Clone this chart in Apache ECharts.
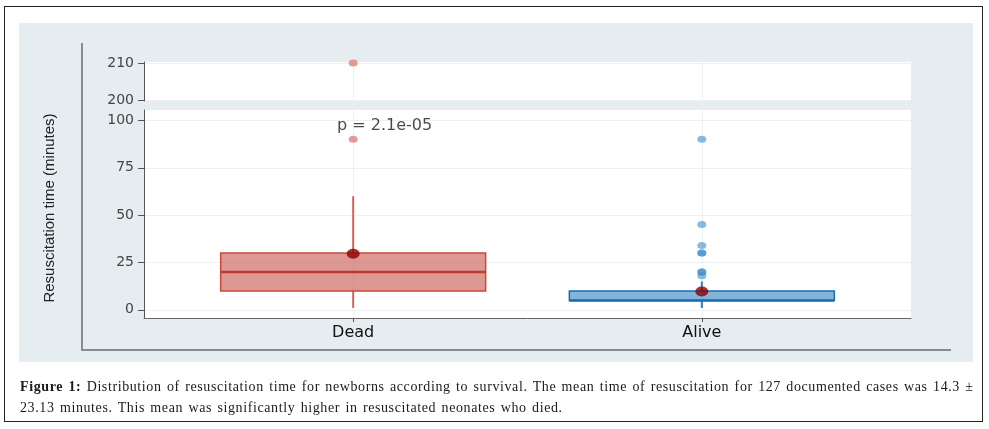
<!DOCTYPE html>
<html>
<head>
<meta charset="utf-8">
<script src="https://cdn.jsdelivr.net/npm/echarts@6/dist/echarts.min.js"></script>
<style>
  html, body { margin:0; padding:0; background:#fff; }
  body { width:989px; height:429px; position:relative; overflow:hidden; }
  #border { position:absolute; left:4px; top:6px; width:977px; height:414px; border:1.5px solid #222; }
  #panel { position:absolute; left:19px; top:23px; width:954px; height:339px; background:#e6edf1; }
  #frame { position:absolute; left:81px; top:43px; width:868px; height:306px; border-left:2px solid #858c93; border-bottom:2px solid #858c93; }
  #chart { position:absolute; left:0; top:0; width:989px; height:429px; }
  #cap { position:absolute; left:20px; top:376px; font:14px 'Liberation Serif','DejaVu Serif',serif; line-height:21px; color:#1a1a1a; white-space:nowrap; letter-spacing:0.6px; word-spacing:1.3px; }
</style>
</head>
<body>
<div id="border"></div>
<div id="panel"></div>
<div id="frame"></div>
<div id="chart"></div>
<div id="cap"><b>Figure 1:</b> Distribution of resuscitation time for newborns according to survival. The mean time of resuscitation for 127 documented cases was 14.3 ±<br>23.13 minutes. This mean was significantly higher in resuscitated neonates who died.</div>
<script>
// ---- data ----
const categories = ['Dead', 'Alive'];
const whiskerLow = [1, 1];
const q1 = [10, 5];
const medians = [20, 5];
const q3 = [30, 10];
const whiskerHigh = [60, 15];
const means = [29.6, 9.7];
const deadOutliers = [90, 210];
const aliveOutliers = [90, 45, 34, 30, 30, 20, 20, 18];
const yTicksLower = [0, 25, 50, 75, 100];
const yTicksUpper = [200, 210];
const pLabel = 'p = 2.1e-05';
const pLabelPos = [1.09, 97];

// ---- derived ----
const boxData = categories.map((c, i) => [i + 1, whiskerLow[i], q1[i], medians[i], q3[i], whiskerHigh[i]]);
const BREAK = 150;
const deadLow = deadOutliers.filter(v => v < BREAK).map(v => [1, v]);
const deadHigh = deadOutliers.filter(v => v >= BREAK).map(v => [1, v]);
const aliveLow = aliveOutliers.filter(v => v < BREAK).map(v => [2, v]);
const aliveHigh = aliveOutliers.filter(v => v >= BREAK).map(v => [2, v]);
const meanData = means.map((m, i) => [i + 1, m]);

const boxStyles = [
  { fill: 'rgba(190,50,40,0.5)', border: '#c9483c', median: '#c0392b', whisker: '#d0645a' },
  { fill: 'rgba(30,120,190,0.55)', border: '#1a6db3', median: '#1a6db3', whisker: '#2a7fc0' }
];

const font = 'DejaVu Sans';
const gridLineColor = '#eef1f4';

const chart = echarts.init(document.getElementById('chart'), null, { renderer: 'canvas' });

function xAxisDef(gridIndex, showLine) {
  return {
    type: 'value', gridIndex: gridIndex, min: 0.4, max: 2.6,
    axisLine: { show: showLine, onZero: false, lineStyle: { color: '#666', width: 1 } },
    axisTick: { show: showLine, customValues: [1, 2], length: 4, lineStyle: { color: '#555' } },
    axisLabel: { show: showLine, customValues: [1, 2], formatter: v => categories[Math.round(v) - 1] || '',
                 fontFamily: font, fontSize: 16, color: '#111', margin: 7 },
    splitLine: { show: true, lineStyle: { color: gridLineColor, width: 1 } }
  };
}
function yAxisDef(gridIndex, min, max, ticks, withName) {
  const ax = {
    type: 'value', gridIndex: gridIndex, min: min, max: max,
    axisLine: { show: true, onZero: false, lineStyle: { color: '#555', width: 1 } },
    axisTick: { show: true, customValues: ticks, length: 6, lineStyle: { color: '#555' } },
    axisLabel: { customValues: ticks, fontFamily: font, fontSize: 14, color: '#444', margin: 10 },
    splitLine: { show: true, lineStyle: { color: gridLineColor, width: 1 } }
  };
  if (withName) {
    ax.name = 'Resuscitation time (minutes)';
    ax.nameLocation = 'middle';
    ax.nameGap = 87;
    ax.nameTextStyle = { fontFamily: 'Liberation Sans', fontSize: 15, color: '#222', padding: [0, 0, 0, 12] };
  }
  return ax;
}

chart.setOption({
  animation: false,
  grid: [
    { left: 144, right: 78, top: 110, bottom: 111, show: true, backgroundColor: '#fff', borderWidth: 0 },
    { left: 144, right: 78, top: 62, height: 39, show: true, backgroundColor: '#fff', borderWidth: 0 }
  ],
  xAxis: [xAxisDef(0, true), xAxisDef(1, false)],
  yAxis: [
    yAxisDef(0, -4.3, 105.5, yTicksLower, true),
    yAxisDef(1, 199.8, 210.3, yTicksUpper, false)
  ],
  series: [
    {
      type: 'custom', xAxisIndex: 0, yAxisIndex: 0, silent: true,
      encode: { x: 0, y: [1, 2, 3, 4, 5] },
      data: boxData,
      renderItem: function (params, api) {
        const x = api.value(0);
        const s = boxStyles[params.dataIndex];
        const pLo = api.coord([x, api.value(1)]);
        const pQ1 = api.coord([x, api.value(2)]);
        const pMed = api.coord([x, api.value(3)]);
        const pQ3 = api.coord([x, api.value(4)]);
        const pHi = api.coord([x, api.value(5)]);
        const w = api.size([0.76, 0])[0];
        return {
          type: 'group',
          children: [
            { type: 'line', shape: { x1: pLo[0], y1: pLo[1], x2: pQ1[0], y2: pQ1[1] }, style: { stroke: s.whisker, lineWidth: 2 } },
            { type: 'line', shape: { x1: pQ3[0], y1: pQ3[1], x2: pHi[0], y2: pHi[1] }, style: { stroke: s.whisker, lineWidth: 2 } },
            { type: 'rect', shape: { x: pQ1[0] - w / 2, y: pQ3[1], width: w, height: pQ1[1] - pQ3[1] },
              style: { fill: s.fill, stroke: s.border, lineWidth: 1.5 } },
            { type: 'line', shape: { x1: pMed[0] - w / 2, y1: pMed[1], x2: pMed[0] + w / 2, y2: pMed[1] },
              style: { stroke: s.median, lineWidth: 2.5 } }
          ]
        };
      }
    },
    { type: 'scatter', xAxisIndex: 0, yAxisIndex: 0, silent: true, data: deadLow, symbolSize: [9, 7],
      itemStyle: { color: '#de8a82', opacity: 0.85 } },
    { type: 'scatter', xAxisIndex: 1, yAxisIndex: 1, silent: true, data: deadHigh, symbolSize: [9, 7],
      itemStyle: { color: '#de8a82', opacity: 0.85 } },
    { type: 'scatter', xAxisIndex: 0, yAxisIndex: 0, silent: true, data: aliveLow, symbolSize: [9, 7],
      itemStyle: { color: '#3a8cc9', opacity: 0.6 } },
    { type: 'scatter', xAxisIndex: 1, yAxisIndex: 1, silent: true, data: aliveHigh, symbolSize: [9, 7],
      itemStyle: { color: '#3a8cc9', opacity: 0.6 } },
    { type: 'scatter', xAxisIndex: 0, yAxisIndex: 0, silent: true, data: meanData, symbolSize: [13, 10],
      itemStyle: { color: '#8b0000' }, z: 5 },
    { type: 'scatter', xAxisIndex: 0, yAxisIndex: 0, silent: true, data: [pLabelPos], symbolSize: 1,
      itemStyle: { color: 'rgba(0,0,0,0)' },
      label: { show: true, position: 'inside', formatter: pLabel, fontFamily: font, fontSize: 16, color: '#1a1a1a' } }
  ]
});
</script>
</body>
</html>
